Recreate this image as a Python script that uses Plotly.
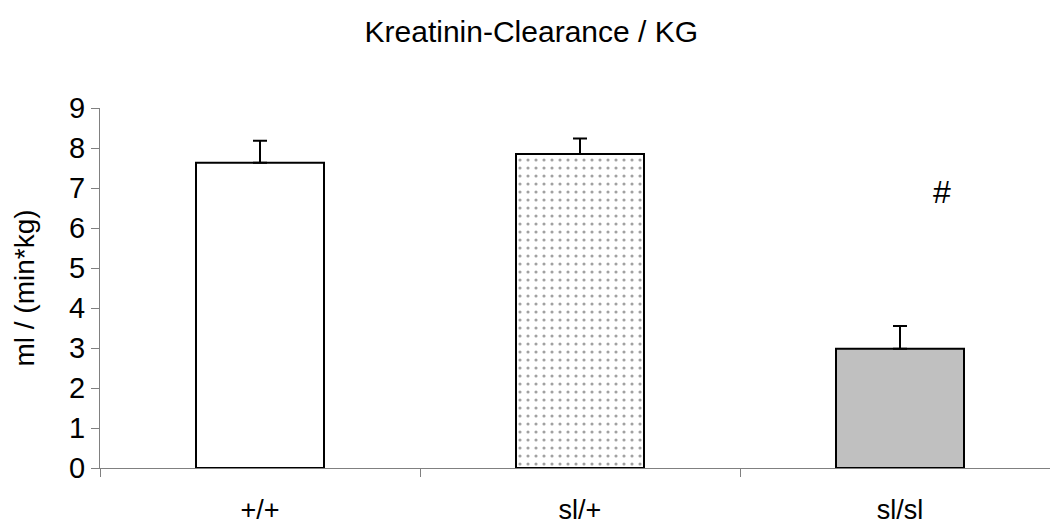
import plotly.graph_objects as go

# Creatinine clearance per body weight for the three genotypes
genotypes = ["+/+", "sl/+", "sl/sl"]
clearance = [7.63, 7.85, 2.98]
sem = [0.55, 0.39, 0.57]
no_lower = [0, 0, 0]

bar_fill = ["#ffffff", "#ffffff", "#c0c0c0"]
bar_shape = ["", ".", ""]

FONT = "Liberation Sans, Arial, sans-serif"

fig = go.Figure()
fig.add_trace(go.Bar(
    x=genotypes,
    y=clearance,
    width=0.4,
    marker=dict(
        color=bar_fill,
        line=dict(color="#000000", width=2),
        pattern=dict(shape=bar_shape, fgcolor="#333333", bgcolor="#ffffff",
                     size=8, solidity=0.12, fillmode="overlay"),
    ),
    error_y=dict(type="data", symmetric=False, array=sem, arrayminus=no_lower,
                 color="#000000", thickness=2, width=7),
    showlegend=False,
))

# significance marker next to the sl/sl bar
fig.add_annotation(x=2.13, y=6.9, text="#", showarrow=False,
                   font=dict(family=FONT, size=32, color="#000000"))

fig.update_layout(
    width=1050, height=526,
    margin=dict(l=100, r=0, t=108, b=58),
    paper_bgcolor="#ffffff", plot_bgcolor="#ffffff",
    title=dict(text="Kreatinin-Clearance / KG", x=0.506, xref="container",
               xanchor="center", y=0.94, yref="container", yanchor="middle",
               font=dict(family=FONT, size=30, color="#000000")),
    xaxis=dict(type="category", range=[-0.5, 2.46875], tickson="boundaries",
               ticks="outside", ticklen=8, tickcolor="#808080",
               showline=True, linecolor="#808080", linewidth=1,
               showgrid=False, zeroline=False, automargin=False,
               tickfont=dict(family=FONT, size=27, color="#000000"),
               ticklabelstandoff=18),
    yaxis=dict(range=[0, 9], dtick=1, ticks="outside", ticklen=8,
               tickcolor="#808080", showline=True, linecolor="#808080",
               linewidth=1, showgrid=False, zeroline=False, automargin=False,
               tickfont=dict(family=FONT, size=29, color="#000000"),
               title=dict(text="ml / (min*kg)", standoff=26,
                          font=dict(family=FONT, size=28, color="#000000"))),
)

fig.write_html("out.html")
